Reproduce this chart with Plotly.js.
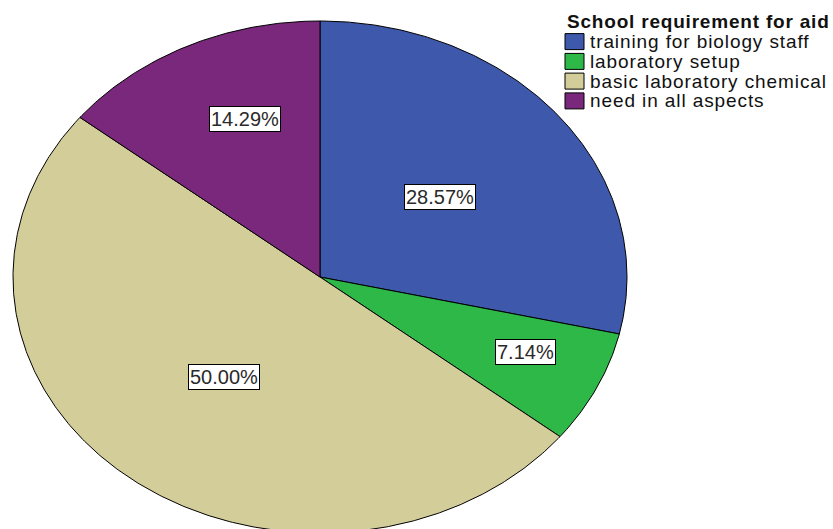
<!DOCTYPE html>
<html>
<head>
<meta charset="utf-8">
<script src="https://cdn.plot.ly/plotly-3.0.1.min.js"></script>
<style>
  html, body { margin: 0; padding: 0; background: #fff; }
  #chart { width: 833px; height: 529px; }
</style>
</head>
<body>
<div id="chart"></div>
<script>
// ---- data ----
const legendTitle = 'School requirement for aid';
const categories = ['training for biology staff', 'laboratory setup', 'basic laboratory chemical', 'need in all aspects'];
const counts = [4, 1, 7, 2];

// ---- style ----
const colors = ['#3E58AB', '#2EB848', '#D3CE99', '#7A287B'];
const labelRadius = [0.5, 0.73, 0.5, 0.663];
const labelFrac = [0.5, 0.42, 0.5, 0.58];   // position of label along slice angle
const W = 833, H = 529;
const cx = 320, cy = 277, rx = 307, ry = 256;   // ellipse in pixels
const FONT = 'Liberation Sans, Arial, sans-serif';

const total = counts.reduce((a, b) => a + b, 0);
const traces = [];
const annotations = [];
const shapes = [];
let cum = 0;
counts.forEach((c, i) => {
  const start = cum / total * 2 * Math.PI;
  cum += c;
  const end = cum / total * 2 * Math.PI;
  const xs = [0], ys = [0];
  const n = Math.max(2, Math.ceil((end - start) / (Math.PI / 360)));
  for (let k = 0; k <= n; k++) {
    const t = start + (end - start) * k / n;
    xs.push(Math.sin(t));
    ys.push(Math.cos(t));
  }
  xs.push(0); ys.push(0);
  traces.push({
    type: 'scatter', mode: 'lines', fill: 'toself',
    x: xs, y: ys, name: categories[i],
    fillcolor: colors[i], line: { color: '#000', width: 1 },
    hoverinfo: 'skip', showlegend: false
  });
  const a = start + (end - start) * labelFrac[i];
  annotations.push({
    x: labelRadius[i] * Math.sin(a), y: labelRadius[i] * Math.cos(a),
    xref: 'x', yref: 'y', showarrow: false,
    text: (c / total * 100).toFixed(2) + '%',
    font: { family: FONT, size: 20, color: '#2a2a2a' },
    bgcolor: '#fff', bordercolor: '#000', borderwidth: 1, borderpad: 1
  });
});

// legend drawn as shapes + text
annotations.push({
  x: 565 / W, y: 1 - 21 / H, xref: 'paper', yref: 'paper',
  xanchor: 'left', yanchor: 'middle', showarrow: false,
  text: '<span style="letter-spacing:0.8px"><b>' + legendTitle + '</b></span>',
  font: { family: FONT, size: 19, color: '#111' }
});
const rowY = [41.6, 61.4, 81.1, 100.9];
categories.forEach((name, i) => {
  shapes.push({
    type: 'rect', xref: 'paper', yref: 'paper',
    x0: 565 / W, x1: 584 / W,
    y0: 1 - (rowY[i] - 8) / H, y1: 1 - (rowY[i] + 8) / H,
    fillcolor: colors[i], line: { color: '#000', width: 1 }
  });
  annotations.push({
    x: 588 / W, y: 1 - rowY[i] / H, xref: 'paper', yref: 'paper',
    xanchor: 'left', yanchor: 'middle', showarrow: false,
    text: '<span style="letter-spacing:0.9px">' + name + '</span>',
    font: { family: FONT, size: 19, color: '#111' }
  });
});

const layout = {
  width: W, height: H,
  margin: { l: 0, r: 0, t: 0, b: 0 },
  paper_bgcolor: '#fff', plot_bgcolor: '#fff',
  xaxis: { range: [-cx / rx, (W - cx) / rx], visible: false, fixedrange: true },
  yaxis: { range: [-(H - cy) / ry, cy / ry], visible: false, fixedrange: true },
  showlegend: false,
  annotations: annotations,
  shapes: shapes
};

Plotly.newPlot('chart', traces, layout, { displayModeBar: false, staticPlot: true });
</script>
</body>
</html>
